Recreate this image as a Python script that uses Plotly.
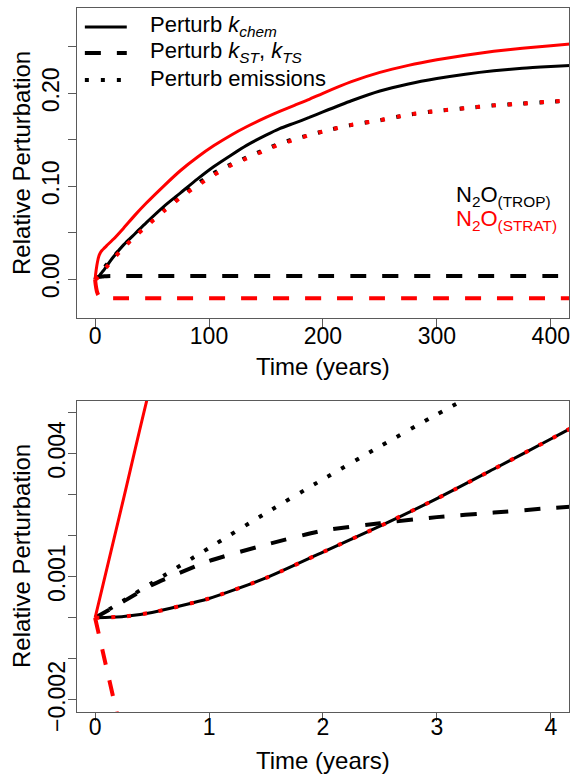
import plotly.graph_objects as go

FONT = "Liberation Sans, Arial, Helvetica, sans-serif"

# ---------------- data ----------------
time_years = [0, 0.25, 0.5, 1, 1.5, 2, 2.5, 3, 3.5, 4, 4.5,
              6, 8, 10, 16, 25, 35, 45, 60, 75, 90, 104, 120, 133, 150, 162,
              175, 188, 200, 225, 250, 275, 300, 325, 350, 375, 400, 420]

# N2O(TROP) responses (black)
trop_kchem = [0, 0.00003, 0.00013, 0.00047, 0.00097, 0.0016, 0.00223, 0.0029,
              0.00362, 0.00435, 0.0051,
              0.0075, 0.0105, 0.014, 0.024, 0.037, 0.049, 0.061, 0.078, 0.093,
              0.108, 0.121, 0.134, 0.144, 0.155, 0.162, 0.168, 0.174, 0.180,
              0.192, 0.2025, 0.210, 0.2158, 0.2205, 0.2242, 0.227, 0.2288, 0.230]
trop_kst = [0, 0.0004, 0.0008, 0.00138, 0.00178, 0.00212, 0.0023, 0.00245,
            0.00256, 0.00267, 0.00276,
            0.0030, 0.0032, 0.0034, 0.0035, 0.0035, 0.0035, 0.0035, 0.0035,
            0.0035, 0.0035, 0.0035, 0.0035, 0.0035, 0.0035, 0.0035, 0.0035,
            0.0035, 0.0035, 0.0035, 0.0035, 0.0035, 0.0035, 0.0035, 0.0035,
            0.0035, 0.0035, 0.0035]
trop_emis = [0, 0.00042, 0.00085, 0.0017, 0.00255, 0.00337, 0.00417, 0.00495,
             0.0057, 0.0065, 0.0073,
             0.0096, 0.0125, 0.0155, 0.024, 0.036, 0.048, 0.059, 0.075, 0.090,
             0.103, 0.114, 0.124, 0.131, 0.140, 0.146, 0.151, 0.155, 0.159,
             0.166, 0.171, 0.177, 0.181, 0.184, 0.187, 0.189, 0.191, 0.1925]

# N2O(STRAT) responses (red)
strat_kchem = [0, 0.0029, 0.0058, 0.0105, 0.0145, 0.018, 0.021, 0.0235,
               0.0255, 0.027, 0.0283,
               0.031, 0.0335, 0.036, 0.043, 0.055, 0.069, 0.082, 0.100, 0.117,
               0.1315, 0.1435, 0.1555, 0.164, 0.174, 0.1805, 0.187, 0.1935,
               0.200, 0.2125, 0.2225, 0.230, 0.236, 0.241, 0.2452, 0.2485,
               0.251, 0.2535]
strat_kst = [0, -0.0030, -0.0056, -0.0095, -0.0125, -0.0147, -0.0163, -0.0174,
             -0.0182, -0.0188, -0.0192,
             -0.0199, -0.0202, -0.0203, -0.0204, -0.0204, -0.0204, -0.0204,
             -0.0204, -0.0204, -0.0204, -0.0204, -0.0204, -0.0204, -0.0204,
             -0.0204, -0.0204, -0.0204, -0.0204, -0.0204, -0.0204, -0.0204,
             -0.0204, -0.0204, -0.0204, -0.0204, -0.0204, -0.0204]
strat_emis = [0, 0.00003, 0.00013, 0.00047, 0.00097, 0.0016, 0.00223, 0.0029,
              0.00362, 0.00435, 0.0051,
              0.0073, 0.010, 0.013, 0.022, 0.034, 0.046, 0.057, 0.073, 0.088,
              0.101, 0.112, 0.123, 0.130, 0.139, 0.145, 0.150, 0.155, 0.159,
              0.166, 0.171, 0.177, 0.181, 0.184, 0.187, 0.189, 0.191, 0.1925]

# tick labels
top_x_ticks = [0, 100, 200, 300, 400]
top_y_ticks = [0, 0.05, 0.10, 0.15, 0.20, 0.25]
top_y_labels = ["0.00", "", "0.10", "", "0.20", ""]
bot_x_ticks = [0, 1, 2, 3, 4]
bot_y_ticks = [-0.002, -0.001, 0, 0.001, 0.002, 0.003, 0.004, 0.005]
bot_y_labels = ["\u22120.002", "", "", "0.001", "", "", "0.004", ""]

legend_labels = ["Perturb <i>k</i><sub><i>chem</i></sub>",
                 "Perturb <i>k</i><sub><i>ST</i></sub>, <i>k</i><sub><i>TS</i></sub>",
                 "Perturb emissions"]
species_labels = ["N<sub>2</sub>O<sub>(TROP)</sub>", "N<sub>2</sub>O<sub>(STRAT)</sub>"]

# ---------------- styles ----------------
W, H = 574, 778          # reference pixel grid
H_FIG = 798              # figure height (page is captured taller, then fitted)
SOLID = dict(dash="solid", width=3)
DASHED = dict(dash="16px,16px", width=4)
DOTTED = dict(dash="4px,12px", width=4)

series = [
    (trop_kchem, "black", SOLID),
    (trop_kst, "black", DASHED),
    (trop_emis, "black", DOTTED),
    (strat_kchem, "#ff0000", SOLID),
    (strat_kst, "#ff0000", DASHED),
    (strat_emis, "#ff0000", DOTTED),
]

fig = go.Figure()
for xa, ya in [("x", "y"), ("x2", "y2")]:
    for vals, col, st in series:
        fig.add_trace(go.Scatter(x=time_years, y=vals, mode="lines",
                                 line=dict(color=col, shape="spline",
                                           smoothing=0.6, **st),
                                 xaxis=xa, yaxis=ya, showlegend=False,
                                 hoverinfo="skip"))

frame = "#5a5a5a"
common = dict(showgrid=False, zeroline=False, showline=True, mirror=True,
              linecolor=frame, linewidth=1.3, ticks="outside", ticklen=8,
              tickcolor=frame, tickwidth=1.3,
              tickfont=dict(family=FONT, size=23, color="black"))


def py(p):
    """reference pixel row -> paper fraction"""
    return 1 - p / H


xdom = [77 / W, 570 / W]
fig.update_layout(
    width=W, height=H_FIG, autosize=False,
    margin=dict(l=0, r=0, t=0, b=0),
    paper_bgcolor="white", plot_bgcolor="white",
    font=dict(family=FONT, color="black"),
    xaxis=dict(domain=xdom, anchor="y", range=[-16, 416],
               tickvals=top_x_ticks, ticklabelstandoff=-11, **common),
    yaxis=dict(domain=[py(318), py(8)], anchor="x",
               range=[-0.0416, 0.2917], tickvals=top_y_ticks,
               ticktext=top_y_labels, tickangle=-90, ticklabelstandoff=0,
               **common),
    xaxis2=dict(domain=xdom, anchor="y2", range=[-0.16, 4.16],
                tickvals=bot_x_ticks, ticklabelstandoff=-13, **common),
    yaxis2=dict(domain=[py(711.7), py(400.7)], anchor="x2",
                range=[-0.002285, 0.005283], tickvals=bot_y_ticks,
                ticktext=bot_y_labels, tickangle=-90, ticklabelstandoff=-6,
                **common),
)

ann = []
# axis titles
for yc in [366, 760]:
    ann.append(dict(text="Time (years)", x=323.5 / W, y=py(yc),
                    xref="paper", yref="paper", showarrow=False,
                    xanchor="center", yanchor="middle",
                    font=dict(family=FONT, size=24, color="black")))
for yc in [163, 556]:
    ann.append(dict(text="Relative Perturbation", x=21 / W, y=py(yc),
                    xref="paper", yref="paper", showarrow=False, textangle=-90,
                    xanchor="center", yanchor="middle",
                    font=dict(family=FONT, size=24, color="black")))

# legend (top panel, upper left)
legend_rows = [27, 53, 80]
legend_styles = [SOLID, DASHED, DOTTED]
shapes = []
for lab, yc, st in zip(legend_labels, legend_rows, legend_styles):
    shapes.append(dict(type="line", xref="paper", yref="paper",
                       x0=85 / W, x1=127 / W, y0=py(yc), y1=py(yc),
                       line=dict(color="black", **st)))
    ann.append(dict(text=lab, x=148 / W, y=py(yc - 1), xref="paper",
                    yref="paper", showarrow=False, xanchor="left",
                    yanchor="middle",
                    font=dict(family=FONT, size=22, color="black")))

# species labels
for lab, yc, col in zip(species_labels, [196, 220], ["black", "#ff0000"]):
    ann.append(dict(text=lab, x=455 / W, y=py(yc), xref="paper",
                    yref="paper", showarrow=False, xanchor="left",
                    yanchor="middle",
                    font=dict(family=FONT, size=22, color=col)))

fig.update_layout(annotations=ann, shapes=shapes)

page_fix = (
    "var gd=document.getElementById('{plot_id}');"
    "var de=document.documentElement, b=document.body;"
    "de.style.margin='0';de.style.padding='0';de.style.overflow='hidden';"
    "b.style.margin='0';b.style.padding='0';b.style.overflow='hidden';"
    "gd.style.position='absolute';gd.style.left='0px';gd.style.top='0px';"
)
fig.write_html("out.html",
               config={"displayModeBar": False, "responsive": False},
               post_script=page_fix)
